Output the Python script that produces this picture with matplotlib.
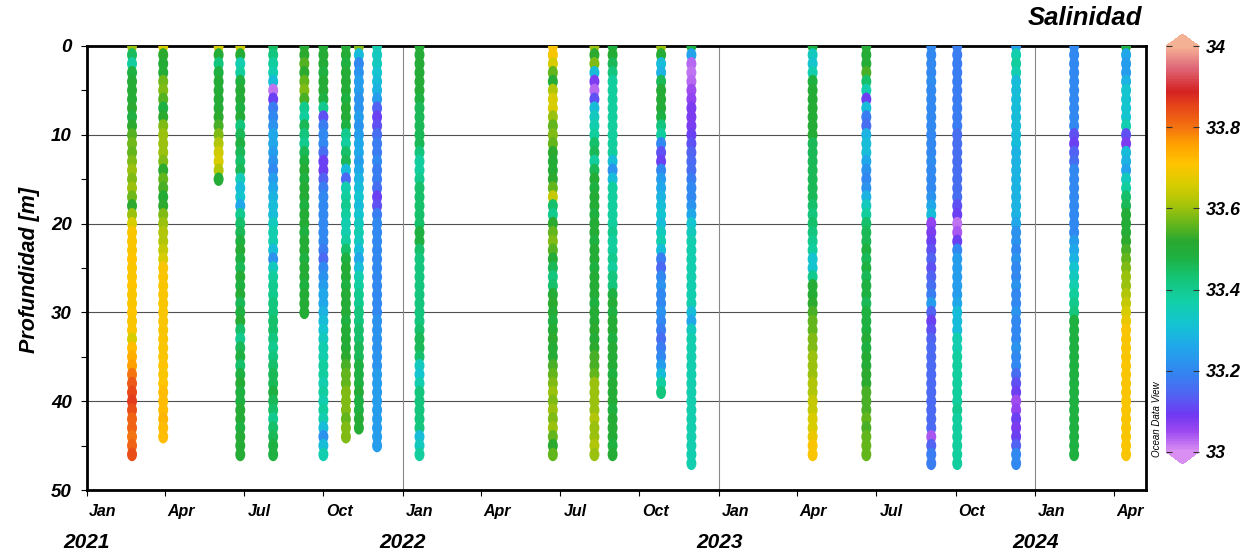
import numpy as np
import matplotlib
matplotlib.use("Agg")
import matplotlib.pyplot as plt
import matplotlib.dates as mdates
from matplotlib.colors import LinearSegmentedColormap
from matplotlib.path import Path
from matplotlib.transforms import ScaledTranslation, blended_transform_factory

plt.rcParams['font.family'] = ['Liberation Sans', 'DejaVu Sans']

# CTD casts: date of each station
dates = ['2021-02-22', '2021-03-30', '2021-06-02', '2021-06-27', '2021-08-04',
         '2021-09-09', '2021-10-01', '2021-10-27', '2021-11-11', '2021-12-02',
         '2022-01-20', '2022-06-23', '2022-08-10', '2022-08-31', '2022-10-26',
         '2022-11-30', '2023-04-19', '2023-06-20', '2023-09-03', '2023-10-03',
         '2023-12-10', '2024-02-15', '2024-04-15']

# salinity per station, one value per metre starting at the surface
s01 = [33.60, 33.45, 33.38, 33.48, 33.50, 33.50, 33.50, 33.52, 33.48, 33.52,
       33.55, 33.57, 33.56, 33.58, 33.60, 33.58, 33.60, 33.57, 33.52, 33.60,
       33.66, 33.70, 33.70, 33.70, 33.71, 33.70, 33.70, 33.71, 33.70, 33.70,
       33.71, 33.70, 33.70, 33.66, 33.72, 33.74, 33.76, 33.80, 33.83, 33.85,
       33.86, 33.84, 33.82, 33.82, 33.80, 33.82, 33.84]
s02 = [33.66, 33.52, 33.50, 33.50, 33.57, 33.58, 33.55, 33.48, 33.52, 33.58,
       33.60, 33.60, 33.60, 33.58, 33.52, 33.56, 33.54, 33.50, 33.52, 33.58,
       33.60, 33.62, 33.62, 33.64, 33.66, 33.70, 33.70, 33.70, 33.70, 33.70,
       33.70, 33.70, 33.70, 33.70, 33.70, 33.70, 33.71, 33.70, 33.71, 33.72,
       33.72, 33.72, 33.73, 33.72, 33.72]
s03 = [33.66, 33.50, 33.42, 33.48, 33.50, 33.50, 33.50, 33.50, 33.52, 33.54,
       33.58, 33.62, 33.65, 33.66, 33.62, 33.50]
s04 = [33.65, 33.50, 33.36, 33.38, 33.48, 33.50, 33.50, 33.48, 33.50, 33.42,
       33.46, 33.48, 33.46, 33.44, 33.46, 33.35, 33.30, 33.32, 33.26, 33.40,
       33.44, 33.46, 33.48, 33.50, 33.48, 33.46, 33.50, 33.48, 33.50, 33.46,
       33.48, 33.50, 33.44, 33.40, 33.46, 33.48, 33.44, 33.48, 33.50, 33.48,
       33.48, 33.50, 33.50, 33.48, 33.50, 33.50, 33.50]
s05 = [33.45, 33.42, 33.38, 33.36, 33.30, 33.02, 33.10, 33.18, 33.20, 33.22,
       33.26, 33.26, 33.24, 33.22, 33.20, 33.24, 33.26, 33.28, 33.30, 33.30,
       33.34, 33.36, 33.36, 33.30, 33.22, 33.34, 33.38, 33.40, 33.40, 33.42,
       33.42, 33.44, 33.44, 33.42, 33.40, 33.42, 33.44, 33.46, 33.46, 33.48,
       33.46, 33.44, 33.40, 33.44, 33.46, 33.48, 33.48]
s06 = [33.50, 33.52, 33.55, 33.52, 33.56, 33.58, 33.54, 33.40, 33.38, 33.46,
       33.42, 33.40, 33.46, 33.48, 33.50, 33.48, 33.50, 33.50, 33.48, 33.50,
       33.50, 33.48, 33.50, 33.50, 33.48, 33.50, 33.50, 33.48, 33.50, 33.50,
       33.50]
s07 = [33.50, 33.50, 33.50, 33.48, 33.50, 33.50, 33.48, 33.40, 33.12, 33.18,
       33.20, 33.20, 33.16, 33.10, 33.10, 33.14, 33.18, 33.20, 33.20, 33.20,
       33.20, 33.20, 33.20, 33.18, 33.15, 33.20, 33.22, 33.24, 33.26, 33.26,
       33.28, 33.30, 33.32, 33.34, 33.36, 33.36, 33.38, 33.38, 33.36, 33.38,
       33.36, 33.38, 33.36, 33.30, 33.22, 33.30, 33.36]
s08 = [33.50, 33.50, 33.48, 33.50, 33.50, 33.50, 33.48, 33.50, 33.50, 33.48,
       33.40, 33.38, 33.44, 33.46, 33.30, 33.15, 33.36, 33.38, 33.40, 33.38,
       33.36, 33.36, 33.38, 33.44, 33.48, 33.50, 33.50, 33.48, 33.50, 33.50,
       33.50, 33.48, 33.50, 33.50, 33.50, 33.52, 33.54, 33.56, 33.56, 33.58,
       33.58, 33.58, 33.56, 33.58, 33.58]
s09 = [33.58, 33.30, 33.20, 33.22, 33.24, 33.24, 33.22, 33.22, 33.24, 33.22,
       33.24, 33.26, 33.26, 33.24, 33.26, 33.28, 33.30, 33.32, 33.30, 33.32,
       33.34, 33.36, 33.34, 33.30, 33.26, 33.30, 33.36, 33.38, 33.40, 33.40,
       33.42, 33.42, 33.44, 33.44, 33.46, 33.46, 33.48, 33.48, 33.48, 33.50,
       33.48, 33.48, 33.50, 33.50]
s10 = [33.36, 33.34, 33.34, 33.32, 33.30, 33.28, 33.24, 33.14, 33.10, 33.12,
       33.16, 33.18, 33.18, 33.20, 33.18, 33.18, 33.16, 33.10, 33.12, 33.18,
       33.20, 33.20, 33.20, 33.20, 33.20, 33.20, 33.20, 33.20, 33.20, 33.20,
       33.20, 33.22, 33.22, 33.22, 33.22, 33.22, 33.22, 33.24, 33.24, 33.24,
       33.24, 33.24, 33.24, 33.24, 33.24, 33.24]
s11 = [33.50, 33.50, 33.50, 33.50, 33.50, 33.50, 33.48, 33.46, 33.46, 33.46,
       33.46, 33.46, 33.42, 33.38, 33.38, 33.40, 33.44, 33.44, 33.44, 33.44,
       33.44, 33.48, 33.48, 33.44, 33.42, 33.42, 33.42, 33.42, 33.42, 33.42,
       33.42, 33.42, 33.44, 33.46, 33.46, 33.44, 33.34, 33.32, 33.36, 33.42,
       33.42, 33.42, 33.42, 33.42, 33.30, 33.34, 33.38]
s12 = [33.70, 33.70, 33.66, 33.56, 33.50, 33.62, 33.66, 33.66, 33.60, 33.56,
       33.58, 33.56, 33.52, 33.50, 33.50, 33.52, 33.56, 33.64, 33.44, 33.40,
       33.52, 33.56, 33.58, 33.55, 33.50, 33.46, 33.42, 33.44, 33.50, 33.52,
       33.50, 33.48, 33.50, 33.52, 33.50, 33.50, 33.54, 33.56, 33.58, 33.60,
       33.58, 33.60, 33.58, 33.60, 33.56, 33.52, 33.56]
s13 = [33.60, 33.52, 33.58, 33.30, 33.08, 33.03, 33.12, 33.30, 33.34, 33.36,
       33.38, 33.44, 33.46, 33.38, 33.46, 33.50, 33.48, 33.50, 33.50, 33.48,
       33.50, 33.50, 33.48, 33.50, 33.50, 33.48, 33.50, 33.50, 33.50, 33.48,
       33.50, 33.50, 33.52, 33.50, 33.52, 33.54, 33.54, 33.56, 33.60, 33.60,
       33.60, 33.60, 33.62, 33.60, 33.60, 33.62, 33.60]
s14 = [33.48, 33.50, 33.46, 33.42, 33.38, 33.38, 33.38, 33.38, 33.38, 33.38,
       33.38, 33.38, 33.38, 33.30, 33.22, 33.30, 33.38, 33.38, 33.38, 33.38,
       33.38, 33.40, 33.38, 33.38, 33.40, 33.38, 33.42, 33.42, 33.48, 33.50,
       33.48, 33.50, 33.50, 33.48, 33.50, 33.50, 33.50, 33.48, 33.50, 33.50,
       33.50, 33.48, 33.50, 33.50, 33.50, 33.48, 33.50]
s15 = [33.60, 33.50, 33.30, 33.28, 33.46, 33.50, 33.50, 33.50, 33.48, 33.42,
       33.38, 33.20, 33.12, 33.10, 33.20, 33.24, 33.26, 33.28, 33.30, 33.32,
       33.30, 33.34, 33.36, 33.30, 33.18, 33.15, 33.20, 33.22, 33.20, 33.20,
       33.22, 33.20, 33.18, 33.16, 33.18, 33.20, 33.24, 33.30, 33.38, 33.42]
s16 = [33.48, 33.25, 33.03, 33.02, 33.03, 33.05, 33.06, 33.08, 33.08, 33.08,
       33.10, 33.12, 33.14, 33.15, 33.16, 33.18, 33.20, 33.20, 33.22, 33.26,
       33.32, 33.34, 33.36, 33.36, 33.36, 33.36, 33.36, 33.36, 33.36, 33.36,
       33.30, 33.26, 33.34, 33.36, 33.36, 33.36, 33.36, 33.36, 33.36, 33.36,
       33.36, 33.36, 33.36, 33.36, 33.36, 33.36, 33.36, 33.36]
s17 = [33.48, 33.34, 33.32, 33.36, 33.48, 33.50, 33.50, 33.50, 33.50, 33.50,
       33.50, 33.46, 33.46, 33.46, 33.46, 33.46, 33.46, 33.46, 33.44, 33.42,
       33.44, 33.42, 33.40, 33.38, 33.32, 33.32, 33.40, 33.50, 33.50, 33.52,
       33.54, 33.56, 33.56, 33.58, 33.58, 33.60, 33.60, 33.60, 33.62, 33.62,
       33.64, 33.64, 33.66, 33.66, 33.68, 33.70, 33.70]
s18 = [33.50, 33.50, 33.50, 33.54, 33.44, 33.36, 33.10, 33.30, 33.18, 33.16,
       33.28, 33.30, 33.30, 33.26, 33.22, 33.20, 33.22, 33.28, 33.34, 33.38,
       33.44, 33.46, 33.46, 33.48, 33.46, 33.48, 33.46, 33.48, 33.48, 33.46,
       33.48, 33.48, 33.48, 33.50, 33.48, 33.50, 33.50, 33.52, 33.52, 33.54,
       33.54, 33.54, 33.56, 33.54, 33.56, 33.56, 33.56]
s19 = [33.20, 33.20, 33.20, 33.20, 33.21, 33.20, 33.20, 33.20, 33.20, 33.20,
       33.20, 33.20, 33.20, 33.21, 33.20, 33.20, 33.20, 33.22, 33.26, 33.30,
       33.06, 33.08, 33.10, 33.12, 33.14, 33.12, 33.14, 33.16, 33.18, 33.24,
       33.14, 33.10, 33.12, 33.14, 33.15, 33.15, 33.15, 33.15, 33.15, 33.15,
       33.15, 33.15, 33.15, 33.15, 33.04, 33.14, 33.18, 33.18]
s20 = [33.18, 33.18, 33.18, 33.18, 33.18, 33.18, 33.18, 33.18, 33.18, 33.18,
       33.16, 33.16, 33.16, 33.16, 33.16, 33.16, 33.16, 33.16, 33.12, 33.10,
       33.02, 33.04, 33.10, 33.20, 33.24, 33.24, 33.24, 33.24, 33.24, 33.26,
       33.30, 33.30, 33.30, 33.36, 33.36, 33.38, 33.38, 33.38, 33.38, 33.38,
       33.38, 33.40, 33.38, 33.38, 33.38, 33.38, 33.38, 33.38]
s21 = [33.24, 33.36, 33.38, 33.36, 33.30, 33.30, 33.30, 33.30, 33.30, 33.30,
       33.30, 33.30, 33.28, 33.28, 33.28, 33.28, 33.28, 33.28, 33.28, 33.28,
       33.26, 33.22, 33.22, 33.20, 33.22, 33.20, 33.20, 33.22, 33.20, 33.20,
       33.22, 33.20, 33.20, 33.20, 33.22, 33.20, 33.20, 33.16, 33.12, 33.10,
       33.05, 33.06, 33.10, 33.08, 33.10, 33.14, 33.20, 33.20]
s22 = [33.20, 33.20, 33.20, 33.20, 33.20, 33.20, 33.20, 33.20, 33.20, 33.20,
       33.12, 33.10, 33.14, 33.16, 33.20, 33.20, 33.20, 33.20, 33.20, 33.20,
       33.20, 33.20, 33.24, 33.26, 33.28, 33.32, 33.34, 33.36, 33.38, 33.40,
       33.42, 33.48, 33.48, 33.48, 33.48, 33.48, 33.48, 33.48, 33.48, 33.48,
       33.48, 33.48, 33.48, 33.48, 33.48, 33.48, 33.48]
s23 = [33.48, 33.26, 33.24, 33.24, 33.28, 33.32, 33.32, 33.32, 33.32, 33.36,
       33.12, 33.08, 33.30, 33.28, 33.25, 33.34, 33.38, 33.44, 33.46, 33.50,
       33.50, 33.50, 33.52, 33.54, 33.56, 33.58, 33.60, 33.60, 33.62, 33.64,
       33.66, 33.68, 33.70, 33.70, 33.70, 33.70, 33.70, 33.70, 33.70, 33.70,
       33.70, 33.70, 33.70, 33.70, 33.70, 33.70, 33.70]

profiles = [s01, s02, s03, s04, s05, s06, s07, s08, s09, s10, s11, s12,
            s13, s14, s15, s16, s17, s18, s19, s20, s21, s22, s23]

sal_ticks = [33.0, 33.2, 33.4, 33.6, 33.8, 34.0]
years = ['2021', '2022', '2023', '2024']

# ODV-like rainbow palette
odv = LinearSegmentedColormap.from_list('odv', [
    (0.00, '#d98ef2'), (0.05, '#9a48f0'), (0.09, '#7038f2'), (0.14, '#5064f2'),
    (0.20, '#3088f0'), (0.26, '#20a8ea'), (0.31, '#14c2d4'), (0.37, '#12d0a8'),
    (0.43, '#14c474'), (0.48, '#1eb040'), (0.52, '#2aa830'), (0.57, '#70b818'),
    (0.61, '#a8c40a'), (0.66, '#d8cc00'), (0.71, '#ffc400'), (0.76, '#ffa000'),
    (0.80, '#f47410'), (0.85, '#e84818'), (0.89, '#d42222'), (0.95, '#e06a7a'),
    (1.00, '#f5b194')])
odv.set_under('#d98ef2')
odv.set_over('#f5b194')

# slightly tall oval so neighbouring samples merge into a column
circ = Path.unit_circle()
oval = Path(circ.vertices * [1.0, 1.35], circ.codes)

fig = plt.figure(figsize=(12.5, 5.56), dpi=100)
ax = fig.add_axes([87 / 1250, 1 - 490 / 556, 1059 / 1250, 444 / 556])
cax = fig.add_axes([1166 / 1250, 1 - 464 / 556, 33 / 1250, 430 / 556])

fnt = dict(fontweight='bold', fontstyle='italic')

for d, sal in zip(dates, profiles):
    depth = np.arange(len(sal))
    x = np.full(len(sal), mdates.datestr2num(d))
    sc = ax.scatter(x, depth, c=sal, cmap=odv, vmin=33, vmax=34, s=94,
                    marker=oval, linewidths=0, zorder=3)

ax.set_ylim(50, 0)
ax.set_xlim(mdates.datestr2num('2021-01-01'), mdates.datestr2num('2024-05-08'))

ax.set_yticks([0, 10, 20, 30, 40, 50])
ax.set_yticks([5, 15, 25, 35, 45], minor=True)
ax.yaxis.grid(True, which='major', color='#505050', lw=0.8)
for y in years[1:]:
    ax.axvline(mdates.datestr2num(y + '-01-01'), color='#8a8a8a', lw=0.8, zorder=1)
ax.set_axisbelow(True)

ax.xaxis.set_major_locator(mdates.MonthLocator(bymonth=[1, 4, 7, 10]))
ax.xaxis.set_major_formatter(mdates.DateFormatter('%b'))
ax.tick_params(axis='both', which='both', direction='out', length=4, width=0.8)
ax.tick_params(axis='x', pad=6, labelsize=11.5)
ax.tick_params(axis='y', pad=7, labelsize=13.5)
for lab in ax.get_xticklabels() + ax.get_yticklabels():
    lab.set_fontweight('bold')
    lab.set_fontstyle('italic')
shift = ScaledTranslation(16 / 100, 0, fig.dpi_scale_trans)
for lab in ax.get_xticklabels():
    lab.set_transform(lab.get_transform() + shift)

for sp in ax.spines.values():
    sp.set_linewidth(2)

# year labels under the January ticks
trans = blended_transform_factory(ax.transData, ax.transAxes)
for y in years:
    ax.text(mdates.datestr2num(y + '-01-01'), -0.119, y, transform=trans,
            ha='center', va='center', fontsize=15, **fnt)

fig.text(30 / 1250, 1 - 270 / 556, 'Profundidad [m]', rotation=90,
         ha='center', va='center', fontsize=15.5, **fnt)
fig.text(1142 / 1250, 1 - 18 / 556, 'Salinidad', ha='right', va='center',
         fontsize=18.5, **fnt)

cb = fig.colorbar(sc, cax=cax, extend='both', extendfrac=0.03, ticks=sal_ticks)
cb.outline.set_visible(False)
cb.ax.set_yticklabels([f'{v:g}' for v in sal_ticks])
cax.tick_params(direction='in', length=4, width=0.8, left=True, right=True,
                color='#333333', pad=5, labelsize=13)
for lab in cax.get_yticklabels():
    lab.set_fontweight('bold')
    lab.set_fontstyle('italic')

fig.text(1157 / 1250, 1 - 419 / 556, 'Ocean Data View', rotation=90,
         ha='center', va='center', fontsize=7, fontstyle='italic')

fig.savefig('out.png', dpi=100)
